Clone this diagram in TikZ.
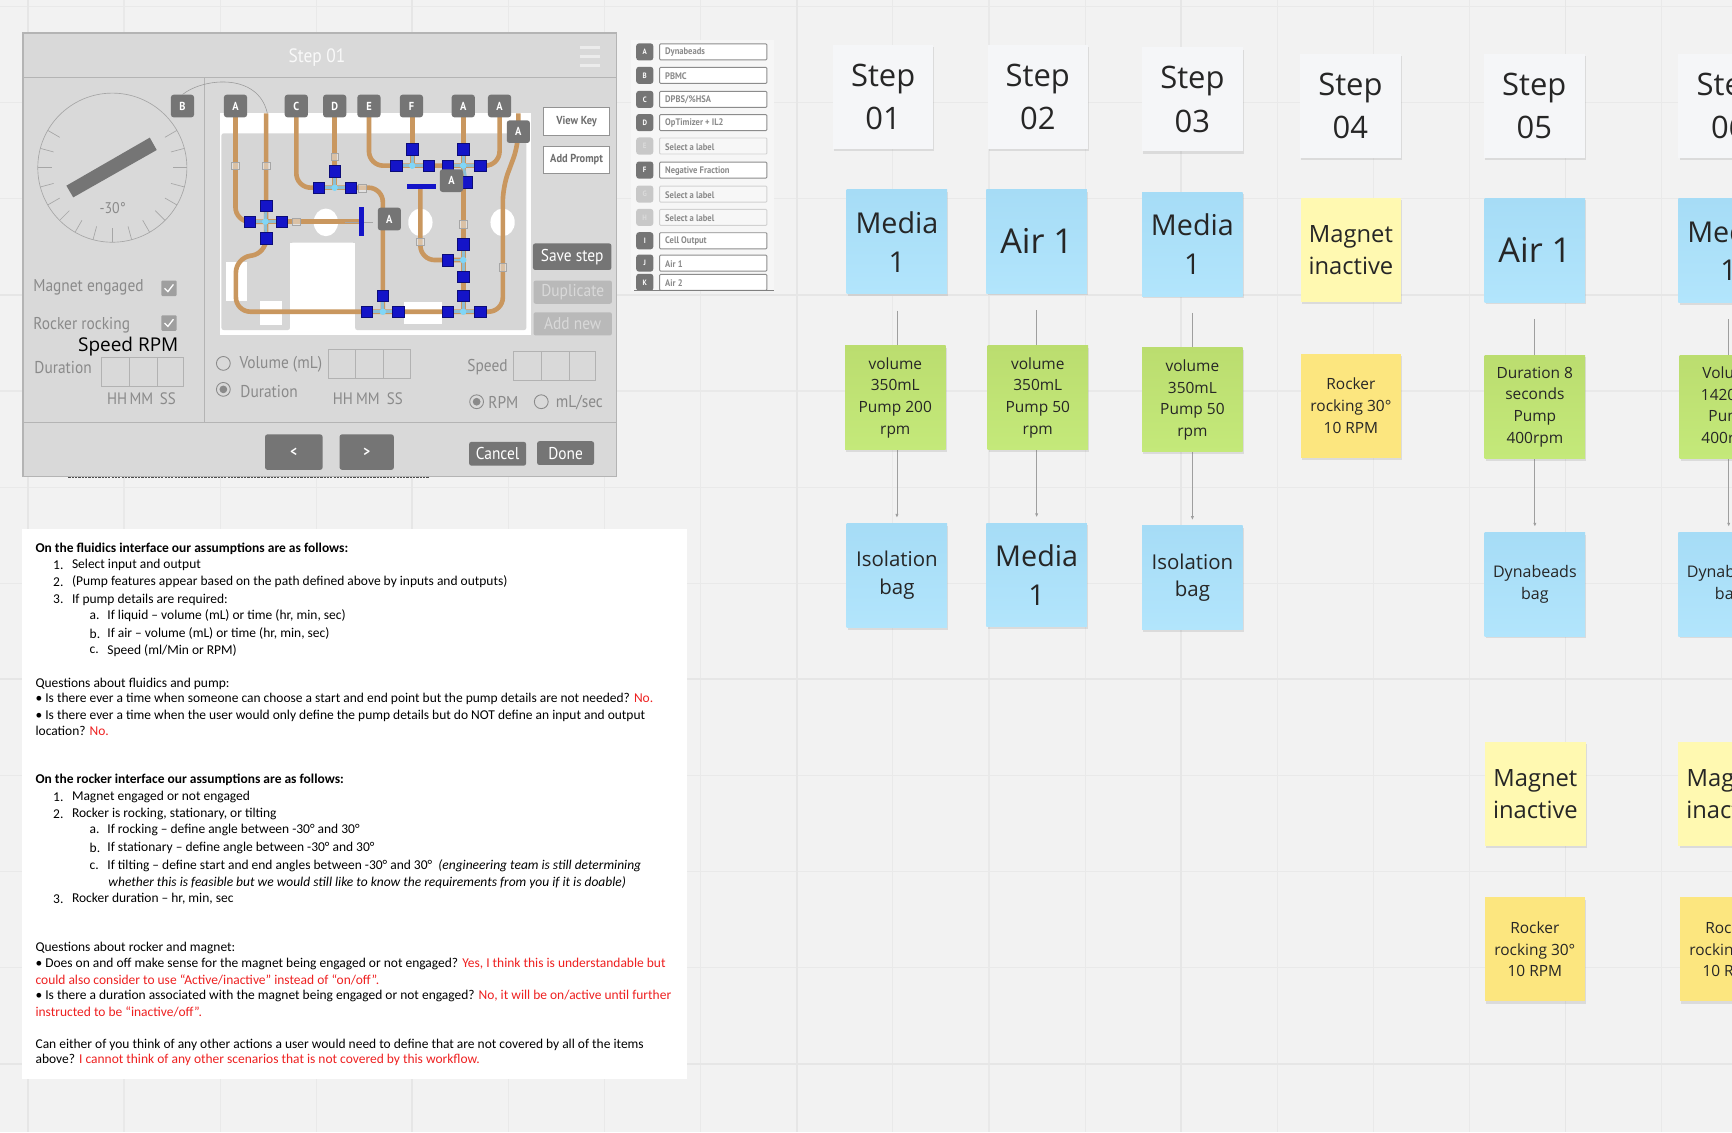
\documentclass[tikz,border=0pt]{standalone}
\usepackage{fontspec}
\usepackage{xcolor}
\setmainfont{Carlito}
\newfontfamily\notefont{Open Sans}
\newfontfamily\uifont[FakeStretch=.9]{PT Sans}
\usetikzlibrary{arrows.meta,calc,positioning,shadows}
\definecolor{boardbg}{HTML}{F2F2F2}
\definecolor{boardline}{HTML}{E9E9E9}
\definecolor{boardmajor}{HTML}{E6E6E6}
\definecolor{notewhite}{HTML}{F5F6F8}
\definecolor{noteblue}{HTML}{B2E5FC}
\definecolor{noteblueA}{HTML}{A6DCF6}
\definecolor{notegreen}{HTML}{C4E97A}
\definecolor{notegreenA}{HTML}{BBDD6F}
\definecolor{noteyellow}{HTML}{FFF9B1}
\definecolor{noteamber}{HTML}{FCE67F}
\definecolor{panelgray}{HTML}{D9D9D9}
\definecolor{paneledge}{HTML}{B4B4B4}
\definecolor{tagdark}{HTML}{757575}
\definecolor{uitext}{HTML}{8A8A8A}
\definecolor{tubetan}{HTML}{C9975F}
\definecolor{valveblue}{HTML}{1414C8}
\definecolor{answerred}{HTML}{EE2020}
\tikzset{
 note/.style={rectangle,minimum width=91pt,minimum height=94pt,inner sep=0pt,align=center,text=black!85,
  drop shadow={shadow xshift=1pt,shadow yshift=-2pt,opacity=.2}},
 blueface/.style={top color=noteblueA,bottom color=noteblue},
 greenface/.style={top color=notegreenA,bottom color=notegreen},
 notehuge/.style={note,font=\notefont\fontsize{31}{40}\selectfont},
 notebig/.style={note,font=\notefont\fontsize{26}{35}\selectfont},
 notestep/.style={note,fill=notewhite,font=\notefont\fontsize{28}{39}\selectfont},
 notemid/.style={note,font=\notefont\fontsize{21.5}{29}\selectfont},
 notelow/.style={note,font=\notefont\fontsize{18.5}{25}\selectfont},
 notesmall/.style={note,font=\notefont\fontsize{14}{19.7}\selectfont},
 notetiny/.style={note,font=\notefont\fontsize{14.5}{19.7}\selectfont},
 flowline/.style={->,>={Latex[length=3.5pt,width=3pt]},gray!75,line width=.7pt},
 docline/.style={anchor=west,inner sep=0pt,yshift=-.8pt,font=\fontsize{12.2}{14}\selectfont},
 uilabel/.style={anchor=west,inner sep=0pt,yshift=-1.5pt,text=uitext,font=\uifont\fontsize{15.5}{18}\selectfont},
 hmsmark/.style={inner sep=0pt,yshift=-1pt,text=uitext,font=\uifont\fontsize{15}{18}\selectfont},
 tagbox/.style={fill=tagdark,rounded corners=2.5pt,minimum width=21pt,minimum height=20.5pt,inner sep=0pt,text=white,
  font=\uifont\bfseries\fontsize{10.5}{12}\selectfont},
 keytag/.style={fill=tagdark,rounded corners=2.5pt,minimum width=15.5pt,minimum height=15.5pt,inner sep=0pt,text=white,
  font=\uifont\bfseries\fontsize{7}{8}\selectfont},
 keyfield/.style={draw=gray!90,fill=white,line width=.8pt,rounded corners=.8pt,minimum width=97pt,minimum height=14.5pt,inner sep=0pt},
 whitebtn/.style={draw=gray!85,line width=.9pt,fill=white,minimum width=60pt,minimum height=25pt,inner sep=0pt,text=uitext!80!black,
  font=\uifont\bfseries\fontsize{10.5}{12}\selectfont},
 darkbtn/.style={fill=tagdark,rounded corners=2pt,inner sep=0pt,text=white,font=\uifont\fontsize{15.5}{18}\selectfont},
 fadedbtn/.style={fill=gray!55,rounded corners=2pt,inner sep=0pt,text=panelgray,minimum width=71pt,minimum height=21pt,
  font=\uifont\fontsize{15.5}{18}\selectfont},
 tube/.style={tubetan,line width=4.2pt,rounded corners=13pt},
 valvenode/.style={fill=valveblue,draw=valveblue!60!black,line width=.3pt,minimum size=10.5pt,inner sep=0pt},
 corenode/.style={circle,fill=cyan!50!white,minimum size=5.5pt,inner sep=0pt},
 clampmark/.style={draw=gray!70,fill=gray!15,fill opacity=.5,minimum width=7pt,minimum height=7pt,inner sep=0pt},
 radiobtn/.style={circle,draw=uitext,fill=panelgray,line width=.8pt,minimum size=12.5pt,inner sep=0pt},
}
\begin{document}
\begin{tikzpicture}[x=1pt,y=-1pt,>=Latex,font=\small]
\useasboundingbox (0,0) rectangle (1568,1025);
\clip (0,0) rectangle (1568,1025);
\fill[boardbg] (0,0) rectangle (1568,1025);
\foreach \k in {0,...,17}{
 \draw[boardline,line width=1pt] ({25.3+87*\k},0)--({25.3+87*\k},1025);
}
\foreach \k in {0,...,11}{
 \draw[boardline,line width=1pt] (0,{6+87*\k})--(1568,{6+87*\k});
}
\foreach \k in {0,4,8,12,16}{
 \draw[boardmajor,line width=1.7pt] ({25.3+87*\k},0)--({25.3+87*\k},1025);
}
\foreach \k in {3,7,11}{
 \draw[boardmajor,line width=1.7pt] (0,{6+87*\k})--(1568,{6+87*\k});
}

\begin{scope}
\fill[white] (20,479) rectangle (622,977);
\foreach \yy/\xx/\ln in {
 496/32/{\textbf{On the fluidics interface our assumptions are as follows:}},
 618/32/{Questions about fluidics and pump:},
 632/32/{• Is there ever a time when someone can choose a start and end point but the pump details are not needed? \textcolor{answerred}{No.}},
 647/32/{• Is there ever a time when the user would only define the pump details but do NOT define an input and output},
 661/32/{location? \textcolor{answerred}{No.}},
 705/32/{\textbf{On the rocker interface our assumptions are as follows:}},
 798/98/{\textit{whether this is feasible but we would still like to know the requirements from you if it is doable)}},
 857/32/{Questions about rocker and magnet:},
 872/32/{• Does on and off make sense for the magnet being engaged or not engaged? \textcolor{answerred}{Yes, I think this is understandable but}},
 886/32/{\textcolor{answerred}{could also consider to use “Active/inactive” instead of “on/off”.}},
 901/32/{• Is there a duration associated with the magnet being engaged or not engaged? \textcolor{answerred}{No, it will be on/active until further}},
 915/32/{\textcolor{answerred}{instructed to be “inactive/off”.}},
 945/32/{Can either of you think of any other actions a user would need to define that are not covered by all of the items},
 959/32/{above? \textcolor{answerred}{I cannot think of any other scenarios that is not covered by this workflow.}}}{
 \node[docline] (doc\yy) at (\xx,\yy) {\ln};
}
\foreach \yy/\nx/\tx/\num/\ln in {
 511/48/65/1./{Select input and output},
 526/48/65/2./{(Pump features appear based on the path defined above by inputs and outputs)},
 542/48/65/3./{If pump details are required:},
 557/81/97/a./{If liquid -- volume (mL) or time (hr, min, sec)},
 573/81/97/b./{If air -- volume (mL) or time (hr, min, sec)},
 588/81/97/c./{Speed (ml/Min or RPM)},
 721/48/65/1./{Magnet engaged or not engaged},
 736/48/65/2./{Rocker is rocking, stationary, or tilting},
 751/81/97/a./{If rocking -- define angle between -30° and 30°},
 767/81/97/b./{If stationary -- define angle between -30° and 30°},
 783/81/97/c./{If tilting -- define start and end angles between -30° and 30° \ \textit{(engineering team is still determining}},
 813/48/65/3./{Rocker duration -- hr, min, sec}}{
 \node[docline] (num\yy) at (\nx,\yy) {\num};
 \node[docline] (item\yy) at (\tx,\yy) {\ln};
}
\end{scope}

\draw[black!70,line width=1.2pt,dash pattern=on 2pt off 1pt] (62,432.5)--(388,432.5);
\fill[panelgray] (21,30) rectangle (558,431.5);
\draw[paneledge,line width=1.3pt] (21,30) rectangle (558,431.5);
\draw[paneledge,line width=1pt] (21,70)--(558,70) (21,382.5)--(558,382.5) (185,70)--(185,382.5);
\node[text=white!95!gray,font=\uifont\fontsize{17.5}{20}\selectfont] (title) at (287,52.5) {Step 01};
\foreach \yy in {43,51,59}{\draw[white!85!gray,line width=3pt] (525,\yy)--(543,\yy);}

\draw[gray!70,line width=.6pt] (101.7,151.8) circle (67.5);
\foreach \a in {150,165,...,390}{
 \draw[gray!70,line width=.6pt] ($(101.7,151.8)+({55*cos(\a)},{-55*sin(\a)})$)--($(101.7,151.8)+({67.5*cos(\a)},{-67.5*sin(\a)})$);
}
\fill[tagdark] (60.1,168.1)--(66.3,178.7)--(141.9,135.8)--(135.6,124.6)--cycle;
\node[text=uitext,font=\uifont\fontsize{14}{16}\selectfont] (dial) at (102,188.6) {-30°};
\node[tagbox] (tagB) at (165.2,96) {B};

\begin{scope}
\fill[white] (199,102) rectangle (481,303);
\fill[gray!32!white,rounded corners=2pt] (200.5,120.7)--(476.5,120.7)--(476.5,298.8)--(321.5,298.8)--(321.5,219.7)--(262.5,219.7)--(262.5,298.8)--(200.5,298.8)--cycle;
\fill[white] (262.5,219.7) rectangle (321.5,303);
\foreach \xx in {295,380.6,455}{\fill[white] (\xx,201.3) ellipse (11 and 12.5);}
\fill[white] (204.5,237.5) rectangle (224,272.2);
\fill[white] (235.4,272.2) rectangle (255.3,294.3);
\fill[white] (365.9,273) rectangle (400.2,293.4);
\end{scope}

\begin{scope}[x=.3695pt,y=-.3018pt,yshift=-18.1pt]
\draw[tube] (577,260)--(577,605)--(650,605);
\draw[tube] (652,280)--(652,700)--(578,714)--(578,875)--(1232,875)--(1232,500)--(1270,375)--(1270,280);
\draw[tube] (650,605)--(880,605);
\draw[tube] (726,260)--(726,503)--(938,503)--(938,875);
\draw[tube] (820,260)--(820,503);
\draw[tube] (904,260)--(904,437)--(1224,437)--(1224,260);
\draw[tube] (1010,260)--(1010,437);
\draw[tube] (1135,260)--(1135,875);
\draw[tube] (1030,500)--(1030,720)--(1135,720);
\foreach \xx/\yy in {577/437,652/437,820/410,1135/612,1232/742,1030/665,725/605,888/505}{
 \node[clampmark] (clamp\xx) at (\xx,\yy) {};
}
\foreach \cx/\cy/\vx/\vy in {650/605/612/605,650/605/690/605,650/605/652/557,650/605/652/655,
 820/503/781/503,820/503/859/503,820/503/820/453,
 1010/437/971/437,1010/437/1050/437,1010/437/1010/388,
 1135/437/1097/437,1135/437/1177/437,1135/437/1135/388,1135/437/1143/487,
 1135/720/1097/720,1135/720/1135/672,1135/720/1135/770,
 938/875/898/875,938/875/975/875,938/875/938/827,
 1135/875/1097/875,1135/875/1177/875,1135/875/1135/827}{
 \draw[cyan!50!gray!70,line width=2.6pt] (\cx,\cy)--(\vx,\vy);
 \node[valvenode] (valve\vx\vy) at (\vx,\vy) {};
 \node[corenode] (core\cx\cy) at (\cx,\cy) {};
}
\draw[gray!70,line width=.8pt] (845,607)--(915,607);
\node[fill=valveblue,minimum width=4.5pt,minimum height=26pt,inner sep=0pt] (valvebarA) at (885,605) {};
\node[fill=valveblue,minimum width=26pt,minimum height=4.5pt,inner sep=0pt] (valvebarB) at (1032,500) {};
\foreach \nm/\xx/\yy/\lb in {a/577/258/A,c/726/258/C,d/820/258/D,e/904/258/E,f/1008/258/F,g/1135/258/A,h/1224/258/A,i/1270/335/A,j/1106/482/A,k/954/597/A}{
 \node[tagbox] (tag\nm) at (\xx,\yy) {\lb};
}
\coordinate (tubeend) at (655,280);
\end{scope}
\draw[gray!80,line width=.5pt] (tagB.north) .. controls (185,70) and (234,66) .. (tubeend);

\foreach \nm/\xx/\yy/\lb/\cy in {mag/30/259/Magnet engaged/261,rock/30/292.7/Rocker rocking/292.5}{
 \node[uilabel] (lab\nm) at (\xx,\yy) {\lb};
 \node[fill=gray!75!white,rounded corners=1pt,minimum size=14pt,inner sep=0pt] (check\nm) at (153,\cy) {};
 \draw[white,line width=1.2pt] ($(check\nm)+(-4,0)$)--($(check\nm)+(-1,3)$)--($(check\nm)+(4,-3.5)$);
}
\node[anchor=west,inner sep=0pt,text=black,font=\notefont\fontsize{17.2}{20}\selectfont] (speedrpm) at (70.5,313.5) {Speed RPM};
\node[uilabel] (labdur) at (31,331) {Duration};
\node[uilabel] (labvol) at (216.7,328) {Volume (mL)};
\node[uilabel] (labdurb) at (217.5,353) {Duration};
\node[uilabel] (labspeed) at (423,330.5) {Speed};
\node[uilabel] (labrpm) at (442,362.8) {RPM};
\node[uilabel] (labml) at (503,362.8) {mL/sec};
\foreach \xx/\yy in {92/323.8,297/316.3,465/317.8}{
 \draw[gray!60,line width=.6pt] (\xx,\yy) rectangle ++(74.4,26.2);
 \draw[gray!60,line width=.6pt] ({\xx+25},\yy)--++(0,26.2) ({\xx+50},\yy)--++(0,26.2);
}
\foreach \xa/\xb/\xc in {106/128/152,310.5/333/357.5}{
 \node[hmsmark] (hh\xa) at (\xa,359.7) {HH};
 \node[hmsmark] (mm\xa) at (\xb,359.7) {MM};
 \node[hmsmark] (ss\xa) at (\xc,359.7) {SS};
}
\node[radiobtn] (radvol) at (202.2,329) {};
\node[radiobtn] (raddur) at (202.2,352.5) {};
\node[radiobtn] (radrpm) at (431.5,363.7) {};
\node[radiobtn] (radml) at (490,363.7) {};
\fill[uitext] (raddur) circle (3.5) (radrpm) circle (3.5);

\node[whitebtn] (viewkey) at (522,110) {View Key};
\node[whitebtn] (addprompt) at (522,144.8) {Add Prompt};
\node[darkbtn,minimum width=71pt,minimum height=24pt] (savestep) at (518,232.4) {Save step};
\node[fadedbtn] (duplicate) at (518.5,264.5) {Duplicate};
\node[fadedbtn] (addnew) at (518.5,293.2) {Add new};
\node[darkbtn,minimum width=52pt,minimum height=32pt,font=\uifont\bfseries\fontsize{13}{15}\selectfont] (prevbtn) at (266,409.3) {<};
\node[darkbtn,minimum width=49pt,minimum height=32pt,font=\uifont\bfseries\fontsize{13}{15}\selectfont] (nextbtn) at (332,409.3) {>};
\node[darkbtn,minimum width=51.5pt,minimum height=21.5pt] (cancelbtn) at (450.5,410.8) {Cancel};
\node[darkbtn,minimum width=51.5pt,minimum height=21.5pt] (donebtn) at (512,410.2) {Done};

\begin{scope}
\clip (571.3,36.2) rectangle (700.7,263);
\fill[boardbg!70!white] (571.3,36.2) rectangle (700.7,263);
\foreach \yy/\lb/\txt/\st in {47/A/Dynabeads/100,68.2/B/PBMC/100,90/C/{DPBS/\%HSA}/100,111/D/OpTimizer + IL2/100,132.2/E/Select a label/35,
 154/F/Negative Fraction/100,175.7/G/Select a label/35,196.8/H/Select a label/35,218/I/Cell Output/100,238.2/J/Air 1/100,255.6/K/Air 2/100}{
 \node[keytag,opacity=\st/100] (key\lb) at (583.7,\yy) {\lb};
 \node[keyfield,draw opacity=\st/100,fill=white!\st!boardbg] (field\lb) at (645.7,\yy) {};
 \node[anchor=west,inner sep=0pt,yshift=-.6pt,text=uitext,font=\uifont\bfseries\fontsize{8.6}{10}\selectfont] (text\lb) at (602,\yy) {\txt};
}
\end{scope}
\draw[gray,line width=.7pt] (574,263)--(700.7,263);

\foreach \nm/\xx/\yy/\lb in {a/799.5/88/{Step\\01},b/939.5/88/{Step\\02},c/1079.5/90/{Step\\03},d/1222.5/96/{Step\\04},e/1389/96/{Step\\05},f/1565/96/{Step\\06}}{
 \node[notestep] (step\nm) at (\xx,\yy) {\lb};
}
\node[notebig,blueface] (sourcea) at (812,219) {Media\\1};
\node[notehuge,blueface] (sourceb) at (938.5,218.5) {Air 1};
\node[notebig,blueface] (sourcec) at (1079.5,221) {Media\\1};
\node[notemid,fill=noteyellow] (sourced) at (1223,226.5) {Magnet\\inactive};
\node[notehuge,blueface] (sourcee) at (1389.5,226.5) {Air 1};
\node[notebig,blueface] (sourcef) at (1565,227) {Media\\1};
\node[notelow,blueface] (targeta) at (812,521) {Isolation\\bag};
\node[notebig,blueface] (targetb) at (938.5,520.5) {Media\\1};
\node[notelow,blueface] (targetc) at (1079.5,523) {Isolation\\bag};
\node[notetiny,blueface] (targete) at (1389.5,529) {Dynabeads\\bag};
\node[notetiny,blueface] (targetf) at (1565,529) {Dynabeads\\bag};
\foreach \s in {a,b,c,e,f}{
 \draw[flowline,shorten <=15pt,shorten >=5pt] (source\s) -- (source\s |- target\s.north);
}
\foreach \nm/\xx/\yy/\lb in {a/810.5/360/{volume\\350mL\\Pump 200\\rpm},b/939.5/360/{volume\\350mL\\Pump 50\\rpm},c/1079.5/362/{volume\\350mL\\Pump 50\\rpm},e/1389.5/368.5/{Duration 8\\seconds\\Pump\\400rpm},f/1566/368.5/{Volume\\1420mL\\Pump\\400rpm}}{
 \node[notesmall,greenface] (pump\nm) at (\xx,\yy) {\lb};
}
\node[notesmall,fill=noteamber] (rockd) at (1223,367.5) {Rocker\\rocking 30°\\10 RPM};
\node[notemid,fill=noteyellow] (magnete) at (1390,718.5) {Magnet\\inactive};
\node[notemid,fill=noteyellow] (magnetf) at (1565,718.5) {Magnet\\inactive};
\node[notesmall,fill=noteamber] (rocke) at (1389.5,859.5) {Rocker\\rocking 30°\\10 RPM};
\node[notesmall,fill=noteamber] (rockf) at (1566,859.5) {Rocker\\rocking 30°\\10 RPM};
\end{tikzpicture}
\end{document}
